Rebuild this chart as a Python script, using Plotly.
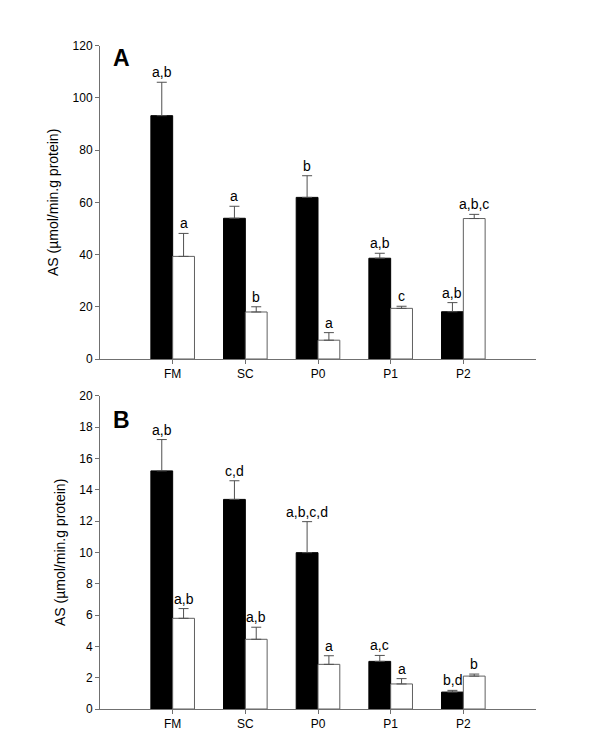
import plotly.graph_objects as go

categories = ["FM", "SC", "P0", "P1", "P2"]

# Panel A
a_black = [93.2, 53.9, 61.9, 38.6, 18.1]
a_black_err = [12.8, 4.6, 8.3, 1.9, 3.5]
a_white = [39.3, 18.0, 7.2, 19.4, 53.8]
a_white_err = [8.8, 2.0, 2.9, 0.8, 1.6]
a_black_lbl = ["a,b", "a", "b", "a,b", "a,b"]
a_white_lbl = ["a", "b", "a", "c", "a,b,c"]

# Panel B
b_black = [15.2, 13.38, 9.98, 3.04, 1.08]
b_black_err = [2.0, 1.19, 1.98, 0.38, 0.11]
b_white = [5.79, 4.45, 2.85, 1.6, 2.1]
b_white_err = [0.62, 0.77, 0.55, 0.34, 0.13]
b_black_lbl = ["a,b", "c,d", "a,b,c,d", "a,c", "b,d"]
b_white_lbl = ["a,b", "a,b", "a", "a", "b"]

FONT = "Liberation Sans, Arial, sans-serif"
AXC = "#707070"
ERRC = "#505050"

# page body margin offset (px)
OFF = 8
W, H = 600 - 2 * OFF, 746 - 2 * OFF


def px_x(v):
    return (v - OFF) / W


def px_y(v):
    return 1 - (v - OFF) / H


fig = go.Figure()

panels = [
    (a_black, a_black_err, a_white, a_white_err, a_black_lbl, a_white_lbl, "x", "y"),
    (b_black, b_black_err, b_white, b_white_err, b_black_lbl, b_white_lbl, "x2", "y2"),
]

for bv, be, wv, we, bl, wl, xa, ya in panels:
    fig.add_trace(go.Bar(
        x=categories, y=bv, xaxis=xa, yaxis=ya, offsetgroup="black",
        marker=dict(color="black", line=dict(color="black", width=1)),
        error_y=dict(type="data", array=be, arrayminus=[0] * len(be), symmetric=False,
                     color=ERRC, thickness=1, width=5),
        showlegend=False, hoverinfo="skip"))
    fig.add_trace(go.Bar(
        x=categories, y=wv, xaxis=xa, yaxis=ya, offsetgroup="white",
        marker=dict(color="white", line=dict(color="#606060", width=1)),
        error_y=dict(type="data", array=we, arrayminus=[0] * len(we), symmetric=False,
                     color=ERRC, thickness=1, width=5),
        showlegend=False, hoverinfo="skip"))
    for i in range(len(categories)):
        fig.add_annotation(x=i - 0.15, y=bv[i] + be[i], xref=xa, yref=ya, text=bl[i],
                           showarrow=False, yanchor="middle", yshift=10,
                           font=dict(family=FONT, size=14, color="black"))
        fig.add_annotation(x=i + 0.15, y=wv[i] + we[i], xref=xa, yref=ya, text=wl[i],
                           showarrow=False, yanchor="middle", yshift=10,
                           font=dict(family=FONT, size=14, color="black"))

xdom = [px_x(100), px_x(536)]
ydomA = [px_y(359), px_y(45.7)]
ydomB = [px_y(709), px_y(395.7)]

xaxis_common = dict(range=[-1, 5], showline=True, linecolor=AXC, linewidth=1,
                    ticks="outside", ticklen=4, tickcolor=AXC, showgrid=False,
                    zeroline=False, tickfont=dict(family=FONT, size=12, color="black"),
                    fixedrange=True, automargin=False)
yaxis_common = dict(showline=True, linecolor=AXC, linewidth=1, ticks="outside",
                    ticklen=4, tickcolor=AXC, showgrid=False, zeroline=False,
                    automargin=False,
                    tickfont=dict(family=FONT, size=12, color="black"),
                    title=dict(text="AS (µmol/min.g protein)", standoff=10,
                               font=dict(family=FONT, size=14, color="black")))

fig.update_layout(
    width=W, height=H, autosize=False,
    margin=dict(l=0, r=0, t=0, b=0, pad=0),
    paper_bgcolor="white", plot_bgcolor="white",
    barmode="group", bargap=0.4, bargroupgap=0,
    xaxis=dict(domain=xdom, anchor="y", **xaxis_common),
    yaxis=dict(domain=ydomA, anchor="x", range=[0, 120], tick0=0, dtick=20, **yaxis_common),
    xaxis2=dict(domain=xdom, anchor="y2", **xaxis_common),
    yaxis2=dict(domain=ydomB, anchor="x2", range=[0, 20], tick0=0, dtick=2, **yaxis_common),
    font=dict(family=FONT),
)

fig.add_annotation(x=px_x(111), y=px_y(58), xref="paper", yref="paper", text="<b>A</b>",
                   showarrow=False, xanchor="left", yanchor="middle",
                   font=dict(family=FONT, size=23, color="black"))
fig.add_annotation(x=px_x(111), y=px_y(420), xref="paper", yref="paper", text="<b>B</b>",
                   showarrow=False, xanchor="left", yanchor="middle",
                   font=dict(family=FONT, size=23, color="black"))

fig.write_html("out.html")
